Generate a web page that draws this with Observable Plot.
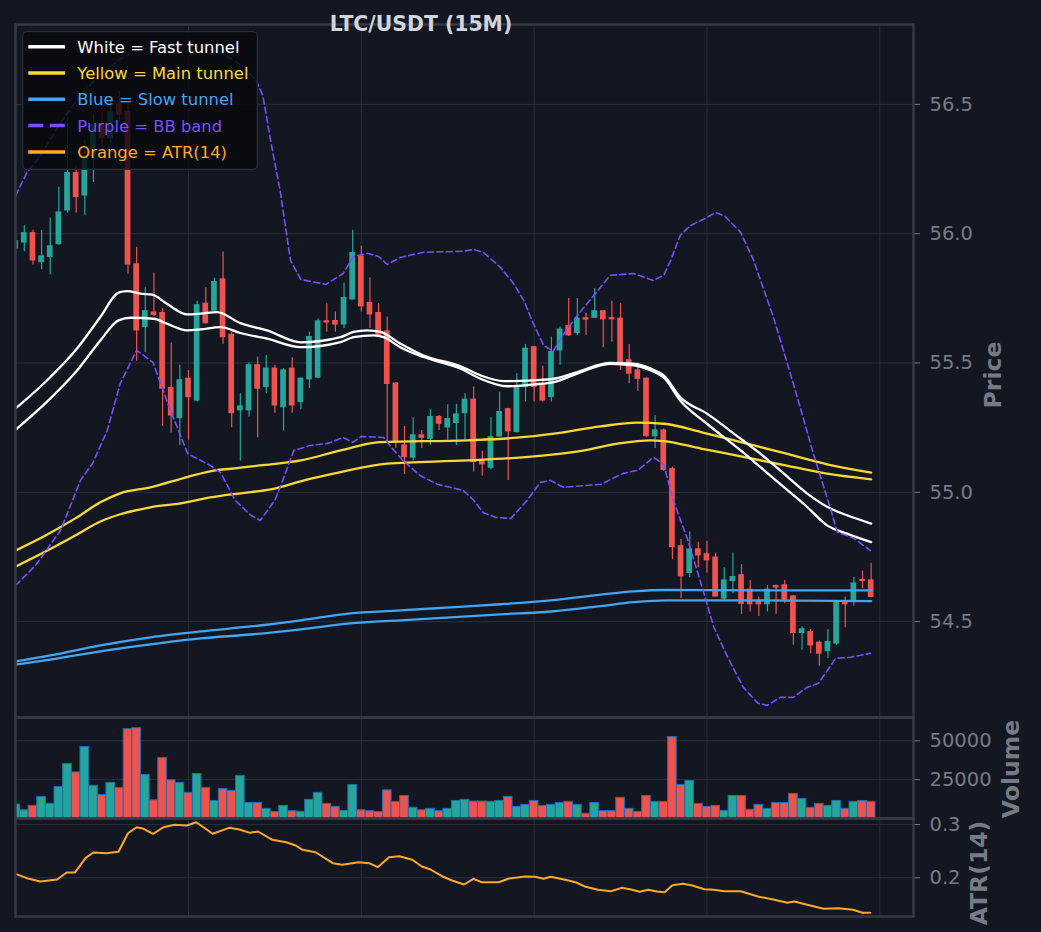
<!DOCTYPE html>
<html><head><meta charset="utf-8">
<script src="https://cdn.jsdelivr.net/npm/d3@7"></script>
<script src="https://cdn.jsdelivr.net/npm/@observablehq/plot@0.6"></script>
<style>
html,body{margin:0;padding:0;background:#131722;}
#wrap{position:relative;width:1041px;height:932px;background:#131722;font-family:"DejaVu Sans",sans-serif;overflow:hidden;}
.panel{position:absolute;left:0;}
.panel svg{overflow:visible;}
.ylab{position:absolute;color:#787b86;font-weight:bold;font-size:23.5px;line-height:1;white-space:nowrap;transform:translate(-50%,-50%) rotate(-90deg);}
#title{position:absolute;left:421px;top:23.5px;transform:translate(-50%,-50%);color:#d1d4dc;font-weight:bold;font-size:20.4px;line-height:1;white-space:nowrap;}
</style></head>
<body><div id="wrap"></div>
<script>
// ---------- data ----------
const opens = [55.943,55.966,56.002,55.890,55.910,55.960,56.090,56.234,56.148,56.30,
56.42,56.37,56.50,56.47,55.881,55.639,55.695,55.693,55.403,55.287,
55.439,55.355,55.729,55.703,55.823,55.609,55.317,55.317,55.491,55.407,
55.478,55.329,55.478,55.349,55.437,55.444,55.661,55.662,55.649,55.746,
55.912,55.732,55.693,55.622,55.420,55.181,55.134,55.220,55.207,55.291,
55.251,55.268,55.306,55.358,55.123,55.095,55.216,55.321,55.233,55.407,
55.561,55.417,55.368,55.549,55.642,55.616,55.673,55.675,55.700,55.673,
55.671,55.510,55.471,55.439,55.217,55.239,55.089,54.791,54.688,54.779,
54.760,54.747,54.589,54.657,54.679,54.623,54.579,54.567,54.637,54.640,
54.597,54.456,54.459,54.418,54.386,54.415,54.576,54.576,54.661,54.659];
const highs = [55.99,56.031,56.013,56.013,56.060,56.180,56.45,56.264,56.36,56.46,
56.47,56.52,56.55,56.50,55.948,55.791,55.848,55.710,55.577,55.491,
55.471,55.739,55.791,55.828,55.929,55.62,55.381,55.500,55.523,55.529,
55.491,55.478,55.520,55.443,55.619,55.671,55.729,55.697,55.809,56.013,
55.951,55.830,55.729,55.678,55.425,55.255,55.288,55.239,55.319,55.297,
55.338,55.340,55.381,55.407,55.159,55.288,55.387,55.325,55.459,55.572,
55.565,55.487,55.600,55.639,55.749,55.749,55.691,55.787,55.702,55.739,
55.729,55.571,55.500,55.443,55.297,55.245,55.097,54.817,54.846,54.807,
54.811,54.765,54.708,54.765,54.720,54.659,54.595,54.640,54.640,54.659,
54.601,54.479,54.469,54.425,54.469,54.579,54.595,54.670,54.695,54.726];
const lows = [55.92,55.930,55.879,55.861,55.841,55.955,56.08,56.080,56.071,56.198,
56.33,56.35,56.43,55.843,55.507,55.540,55.680,55.255,55.229,55.181,
55.201,55.349,55.652,55.697,55.572,55.250,55.121,55.291,55.211,55.381,
55.306,55.237,55.306,55.319,55.401,55.439,55.619,55.619,55.633,55.744,
55.697,55.633,55.605,55.194,55.170,55.069,55.121,55.169,55.181,55.239,
55.201,55.181,55.203,55.078,55.062,55.087,55.214,55.046,55.229,55.349,
55.349,55.349,55.349,55.491,55.603,55.607,55.607,55.673,55.559,55.581,
55.471,55.420,55.391,55.213,55.169,55.080,54.739,54.589,54.670,54.708,
54.688,54.595,54.579,54.608,54.528,54.537,54.520,54.537,54.528,54.569,
54.408,54.389,54.376,54.327,54.357,54.408,54.476,54.559,54.627,54.595];
const closes = [55.971,56.002,55.897,55.912,55.951,56.082,56.234,56.142,56.30,56.42,
56.37,56.47,56.46,55.881,55.626,55.700,55.686,55.401,55.297,55.433,
55.368,55.723,55.654,55.813,55.600,55.306,55.332,55.491,55.401,55.478,
55.336,55.471,55.336,55.439,55.600,55.661,55.657,55.649,55.751,55.925,
55.719,55.688,55.607,55.419,55.193,55.136,55.220,55.211,55.291,55.265,
55.283,55.301,55.358,55.117,55.108,55.213,55.310,55.236,55.404,55.555,
55.407,55.355,55.542,55.629,55.607,55.671,55.668,55.700,55.669,55.669,
55.503,55.459,55.439,55.217,55.239,55.087,54.788,54.675,54.779,54.756,
54.737,54.597,54.659,54.672,54.569,54.567,54.567,54.623,54.632,54.585,
54.456,54.470,54.408,54.376,54.421,54.572,54.567,54.647,54.657,54.595];
const volumes = [9000,5300,8100,13900,9400,20300,35000,29700,46000,21000,
15200,22900,19700,57500,58100,28000,11700,38900,24600,22900,
16500,28600,19700,11300,19000,17800,27400,10000,10000,6200,
4100,8100,4700,4300,12000,16500,9400,7500,4900,21600,
5300,4700,4100,18100,10700,14500,6900,5300,6200,4700,
6200,11300,12000,10900,10900,10700,11300,13900,7500,8800,
11300,8100,8800,10000,10700,8800,3000,10000,4700,4700,
13300,6200,4300,14500,10700,10700,52400,21600,24200,9400,
7500,8100,4900,14500,14500,5600,8800,6200,10000,10000,
15800,12600,6900,9400,8100,11300,6200,10700,11300,10700];

// tunnels and bands: [candle index, price]
const fastUpper = [[0,55.324],[4.0,55.445],[7.1,55.556],[9.8,55.678],[11.9,55.772],[12.9,55.778],[14.4,55.768],[15.8,55.764],[17.5,55.729],[19.85,55.688],[21.4,55.691],[23.3,55.697],[26.0,55.654],[29.1,55.626],[33.0,55.580],[37.6,55.600],[39.1,55.620],[40.7,55.626],[42.2,55.620],[44.5,55.575],[47.2,55.529],[51.5,55.487],[53.8,55.452],[56.5,55.430],[60.0,55.433],[62.3,55.439],[65.0,55.465],[68.8,55.500],[71.5,55.497],[73.5,55.478],[75.0,55.452],[76.9,55.368],[80.0,55.304],[83.9,55.207],[86.2,55.149],[88.9,55.072],[91.6,54.995],[94.3,54.937],[96.2,54.911],[99,54.879]];
const fastLower = [[0,55.242],[4.0,55.362],[7.1,55.471],[9.8,55.587],[11.9,55.665],[13.3,55.675],[16.0,55.671],[17.5,55.652],[19.85,55.626],[21.4,55.630],[23.7,55.639],[26.0,55.616],[29.1,55.594],[33.0,55.561],[37.6,55.581],[39.1,55.600],[41.4,55.607],[42.6,55.600],[44.5,55.561],[47.2,55.523],[51.5,55.478],[53.8,55.439],[56.9,55.410],[60.0,55.417],[62.3,55.426],[65.0,55.459],[68.8,55.497],[71.5,55.491],[73.5,55.471],[75.0,55.444],[76.9,55.355],[80.0,55.265],[83.9,55.162],[86.2,55.097],[88.9,55.020],[91.6,54.943],[93.9,54.872],[96.2,54.840],[99,54.807]];
const mainUpper = [[0,54.775],[3.45,54.833],[6.9,54.899],[9.8,54.961],[12.1,54.996],[15.6,55.019],[19.85,55.059],[23.1,55.085],[24.9,55.091],[28.3,55.104],[33.0,55.123],[37.6,55.162],[42.2,55.194],[52.3,55.201],[58.0,55.211],[62.3,55.227],[67.7,55.255],[71.9,55.269],[75.0,55.265],[79.3,55.233],[83.9,55.194],[88.5,55.155],[93.9,55.108],[99,55.076]];
const mainLower = [[0,54.713],[3.45,54.771],[6.9,54.833],[9.8,54.887],[12.1,54.915],[15.6,54.942],[19.1,54.957],[22.5,54.980],[26.0,54.996],[29.5,55.011],[33.7,55.049],[37.6,55.078],[43.0,55.111],[52.3,55.123],[60.0,55.139],[65.8,55.162],[69.7,55.188],[73.5,55.201],[75.0,55.198],[79.3,55.169],[83.9,55.139],[88.5,55.108],[93.9,55.072],[99,55.050]];
const slowUpper = [[0,54.346],[4.0,54.369],[9.8,54.408],[15.6,54.439],[21.4,54.462],[27.2,54.481],[33.0,54.505],[38.7,54.532],[44.5,54.543],[50.3,54.555],[56.1,54.567],[61.9,54.582],[67.7,54.604],[71.5,54.617],[75.4,54.622],[85.0,54.621],[99,54.621]];
const slowLower = [[0,54.334],[4.0,54.353],[9.8,54.385],[15.6,54.412],[21.4,54.435],[27.2,54.450],[33.0,54.470],[38.7,54.493],[44.5,54.505],[50.3,54.516],[56.1,54.528],[61.9,54.539],[67.7,54.560],[71.5,54.575],[75.4,54.582],[85.0,54.582],[99,54.579]];
const bbUpper = [[0,56.148],[1.25,56.233],[2.9,56.303],[5.2,56.430],[7.5,56.535],[9.8,56.615],[12.1,56.675],[14.4,56.712],[16.8,56.730],[19.1,56.732],[21.4,56.722],[23.7,56.700],[26.0,56.655],[27.8,56.595],[28.6,56.535],[29.5,56.361],[30.6,56.167],[31.8,55.897],[33.0,55.823],[35.9,55.804],[37.9,55.846],[39.1,55.912],[40.7,55.924],[42.0,55.912],[43.0,55.881],[44.5,55.908],[47.2,55.928],[51.8,55.932],[53.0,55.939],[54.1,55.928],[56.1,55.870],[57.6,55.808],[58.8,55.742],[59.9,55.653],[61.1,55.568],[62.2,55.545],[63.4,55.611],[65.0,55.684],[66.9,55.761],[68.8,55.839],[71.5,55.846],[73.8,55.819],[75.0,55.839],[75.8,55.897],[76.9,55.993],[78.1,56.032],[79.8,56.059],[81.0,56.082],[82.1,56.067],[83.9,56.005],[85.4,55.897],[87.7,55.676],[89.3,55.498],[90.8,55.328],[92.3,55.150],[94.0,54.969],[95.1,54.845],[97.0,54.822],[98.9,54.775]];
const bbLower = [[0,54.640],[2.3,54.717],[5.2,54.853],[7.5,55.046],[8.9,55.112],[10.6,55.239],[12.1,55.421],[14.0,55.549],[15.9,55.502],[17.6,55.344],[19.9,55.150],[22.5,55.104],[23.7,55.077],[25.4,54.969],[27.2,54.911],[28.3,54.891],[30.0,54.969],[30.9,55.046],[32.2,55.162],[34.1,55.181],[36.1,55.189],[37.9,55.212],[39.0,55.193],[40.0,55.216],[42.6,55.212],[43.4,55.177],[44.8,55.123],[46.8,55.065],[48.8,55.031],[51.8,55.007],[53.0,54.969],[54.1,54.922],[55.5,54.903],[57.3,54.899],[59.2,54.969],[60.7,55.038],[61.9,55.046],[63.4,55.019],[67.7,55.031],[70.3,55.073],[72.0,55.085],[73.8,55.135],[75.0,55.108],[76.1,54.969],[77.8,54.814],[79.3,54.648],[80.8,54.478],[82.4,54.362],[84.2,54.246],[85.9,54.184],[87.0,54.176],[88.5,54.207],[90.0,54.207],[91.6,54.246],[92.9,54.261],[94.9,54.358],[96.6,54.362],[98.9,54.377]];
// ATR(14): [candle index, value]
const atr = [[0,0.2075],[1.3,0.1993],[2.85,0.1931],[4.8,0.1968],[5.9,0.2099],[6.85,0.2099],[8.1,0.2375],[9.0,0.2475],[10.5,0.2462],[11.9,0.2488],[13.0,0.2837],[14.0,0.2949],[14.8,0.2919],[15.9,0.2826],[17.1,0.2949],[18.4,0.2994],[19.8,0.2981],[20.9,0.3043],[22.8,0.2826],[24.7,0.2938],[25.9,0.2906],[27.1,0.2844],[28.05,0.2869],[29.7,0.2713],[31.3,0.2668],[32.4,0.2606],[33.2,0.2525],[34.7,0.2480],[36.7,0.2274],[37.8,0.2244],[39.7,0.2293],[40.9,0.2274],[41.9,0.2199],[43.2,0.2387],[44.4,0.2405],[45.9,0.2338],[47.0,0.2212],[48.0,0.2156],[49.35,0.2030],[50.5,0.1949],[51.9,0.1874],[52.96,0.1981],[53.96,0.1917],[55.9,0.1917],[57.1,0.1987],[59.0,0.2024],[60.1,0.2019],[61.1,0.1981],[61.9,0.2019],[63.6,0.1962],[64.8,0.1917],[65.95,0.1831],[67.4,0.1775],[68.9,0.1749],[70.1,0.1812],[71.1,0.1786],[72.2,0.1737],[73.2,0.1775],[74.2,0.1743],[75.1,0.1730],[76.0,0.1861],[77.2,0.1887],[78.2,0.1861],[79.7,0.1786],[80.8,0.1775],[82.0,0.1749],[83.9,0.1749],[85.9,0.1649],[87.8,0.1587],[89.3,0.1531],[90.1,0.1555],[91.6,0.1493],[93.5,0.1418],[95.2,0.1430],[96.9,0.1400],[98.0,0.1343],[98.9,0.1343]];

const priceTicks = [54.5, 55.0, 55.5, 56.0, 56.5];
const volumeTicks = [25000, 50000];
const atrTicks = [0.2, 0.3];
const xGridTicks = [20, 40, 60, 80, 100];

const legendLabels = ["White = Fast tunnel", "Yellow = Main tunnel", "Blue = Slow tunnel", "Purple = BB band", "Orange = ATR(14)"];
const legendColors = ["#ffffff", "#fdd835", "#42a5f5", "#7c4dff", "#ffa726"];
const legendDashed = [false, false, false, true, false];

// ---------- styling ----------
const UP = "#26a69a", DOWN = "#ef5350", GRID = "#2a2e39", FRAME = "#363a45", AXIS = "#787b86";
const WHITE = "#ffffff", YELLOW = "#fdd835", BLUE = "#42a5f5", PURPLE = "#7c4dff", ORANGE = "#ffa726";
const W = 1041, ML = 15, MR = 128;
const xDomain = [-0.02, 103.9];

const candles = opens.map((o, i) => ({i, open: o, high: highs[i], low: lows[i], close: closes[i], vol: volumes[i]}));
const dirColor = d => d.close >= d.open ? UP : DOWN;

const wrap = document.getElementById("wrap");
function addPanel(top, plot) {
  const div = document.createElement("div");
  div.className = "panel";
  div.style.top = top + "px";
  div.appendChild(plot);
  wrap.appendChild(div);
}
const baseStyle = {background: "transparent", color: AXIS, fontFamily: "DejaVu Sans", overflow: "visible"};
const axisOpts = {anchor: "right", tickSize: 6, tickPadding: 10, fontSize: 19.5, label: null};

// ---------- price panel ----------
const tunnelLine = (data, stroke) => Plot.line(data, {x: d => d[0], y: d => d[1], stroke, strokeWidth: 2.3, curve: "monotone-x", clip: true});
const bandLine = (data) => Plot.line(data, {x: d => d[0], y: d => d[1], stroke: PURPLE, strokeWidth: 1.6, strokeDasharray: "6,3.5", clip: true});

const pricePlot = Plot.plot({
  width: W, height: 717,
  marginLeft: ML, marginRight: MR, marginTop: 24, marginBottom: 0,
  x: {domain: xDomain, axis: null},
  y: {domain: [54.129, 56.809], axis: null},
  color: {type: "identity"},
  style: baseStyle,
  marks: [
    Plot.gridX(xGridTicks, {stroke: GRID, strokeOpacity: 1, strokeWidth: 1}),
    Plot.gridY(priceTicks, {stroke: GRID, strokeOpacity: 1, strokeWidth: 1}),
    Plot.ruleX(candles, {x: "i", y1: "low", y2: "high", stroke: dirColor, strokeWidth: 1.2, clip: true}),
    Plot.rect(candles, {x1: d => d.i - 0.33, x2: d => d.i + 0.33, y1: "open", y2: "close", fill: dirColor, insetTop: -0.6, insetBottom: -0.6, clip: true}),
    tunnelLine(slowUpper, BLUE), tunnelLine(slowLower, BLUE),
    tunnelLine(mainUpper, YELLOW), tunnelLine(mainLower, YELLOW),
    tunnelLine(fastUpper, WHITE), tunnelLine(fastLower, WHITE),
    bandLine(bbUpper), bandLine(bbLower),
    Plot.axisY(priceTicks, {...axisOpts, tickFormat: d => d.toFixed(1)}),
    Plot.frame({stroke: FRAME, strokeWidth: 2.5})
  ]
});
addPanel(0, pricePlot);

// ---------- volume panel ----------
const volumePlot = Plot.plot({
  width: W, height: 101,
  marginLeft: ML, marginRight: MR, marginTop: 0, marginBottom: 0,
  x: {domain: xDomain, axis: null},
  y: {domain: [0, 65000], axis: null},
  color: {type: "identity"},
  style: baseStyle,
  marks: [
    Plot.gridX(xGridTicks, {stroke: GRID, strokeOpacity: 1}),
    Plot.gridY(volumeTicks, {stroke: GRID, strokeOpacity: 1}),
    Plot.rect(candles, {x1: d => d.i - 0.5, x2: d => d.i + 0.5, y1: 0, y2: "vol", fill: dirColor, stroke: "#1f6fb0", strokeWidth: 1, clip: true}),
    Plot.axisY(volumeTicks, {...axisOpts, tickFormat: d => String(d)}),
    Plot.frame({stroke: FRAME, strokeWidth: 2.5})
  ]
});
addPanel(717, volumePlot);

// ---------- ATR panel ----------
const atrPlot = Plot.plot({
  width: W, height: 98,
  marginLeft: ML, marginRight: MR, marginTop: 0, marginBottom: 0,
  x: {domain: xDomain, axis: null},
  y: {domain: [0.1274, 0.3113], axis: null},
  style: baseStyle,
  marks: [
    Plot.gridX(xGridTicks, {stroke: GRID, strokeOpacity: 1}),
    Plot.gridY(atrTicks, {stroke: GRID, strokeOpacity: 1}),
    Plot.line(atr, {x: d => d[0], y: d => d[1], stroke: ORANGE, strokeWidth: 2, clip: true}),
    Plot.axisY(atrTicks, {...axisOpts, tickFormat: d => d.toFixed(1)}),
    Plot.frame({stroke: FRAME, strokeWidth: 2.5})
  ]
});
addPanel(818, atrPlot);

// ---------- legend ----------
const leg = d3.select("#wrap").append("svg")
  .attr("width", W).attr("height", 932)
  .style("position", "absolute").style("left", 0).style("top", 0).style("pointer-events", "none");
leg.append("rect").attr("x", 22.7).attr("y", 31.7).attr("width", 234.6).attr("height", 137.6)
  .attr("rx", 4).attr("fill", "#07080c").attr("fill-opacity", 0.82).attr("stroke", "#2a2e39").attr("stroke-width", 1.2);
legendLabels.forEach((lab, k) => {
  const cy = 46.7 + 26.3 * k;
  leg.append("line").attr("x1", 28.3).attr("x2", 65).attr("y1", cy).attr("y2", cy)
    .attr("stroke", legendColors[k]).attr("stroke-width", 3.5)
    .attr("stroke-dasharray", legendDashed[k] ? "15,6.5" : null);
  leg.append("text").attr("x", 77.3).attr("y", cy + 5.9).attr("fill", legendColors[k])
    .attr("font-family", "DejaVu Sans").attr("font-size", 16.4).text(lab);
});

// ---------- labels & title ----------
function addLabel(text, x, y, cls) {
  const d = document.createElement("div");
  d.className = cls; d.textContent = text;
  d.style.left = x + "px"; d.style.top = y + "px";
  wrap.appendChild(d);
  return d;
}
addLabel("Price", 994, 375, "ylab");
addLabel("Volume", 1012, 769, "ylab");
addLabel("ATR(14)", 980, 872.5, "ylab");
const t = document.createElement("div");
t.id = "title"; t.textContent = "LTC/USDT (15M)";
wrap.appendChild(t);
</script>
</body></html>
